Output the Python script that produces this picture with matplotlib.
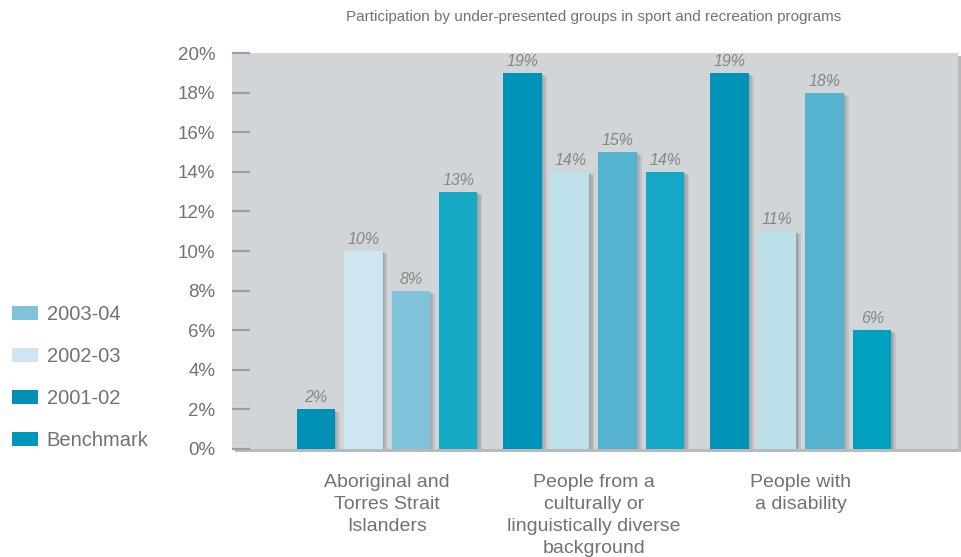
import matplotlib
matplotlib.use("Agg")
import matplotlib.pyplot as plt
import matplotlib.patheffects as pe
from matplotlib.patches import Patch
import numpy as np

# ---- data ----
categories = [
    "Aboriginal and\nTorres Strait\nIslanders",
    "People from a\nculturally or\nlinguistically diverse\nbackground",
    "People with\na disability",
]
series_names = ["2001-02", "2002-03", "2003-04", "Benchmark"]
values_2001_02 = [2, 19, 19]
values_2002_03 = [10, 14, 11]
values_2003_04 = [8, 15, 18]
values_benchmark = [13, 14, 6]
ytick_values = [0, 2, 4, 6, 8, 10, 12, 14, 16, 18, 20]
ytick_labels = [f"{v}%" for v in ytick_values]
title = "Participation by under-presented groups in sport and recreation programs"

# ---- styling ----
bar_colors = [
    ["#0090b5", "#0093b8", "#0093b8"],   # 2001-02
    ["#cde6ef", "#bde0ea", "#bcdfe9"],   # 2002-03
    ["#7fc2da", "#56b3cf", "#56b3cf"],   # 2003-04
    ["#15a9c6", "#15a8c6", "#00a0c1"],   # Benchmark
]
legend_colors = {"2003-04": "#7fc2da", "2002-03": "#cde6ef",
                 "2001-02": "#0090b5", "Benchmark": "#0095bb"}
text_grey = "#707274"
label_grey = "#858687"
panel_grey = "#d2d5d7"

plt.rcParams["font.family"] = ["Liberation Sans", "DejaVu Sans"]

fig = plt.figure(figsize=(9.61, 5.57), dpi=100)
fig.patch.set_facecolor("white")
ax = fig.add_axes([0.2414, 0.1939, 0.7555, 0.7109])
ax.set_facecolor(panel_grey)
ax.patch.set_path_effects([
    pe.SimplePatchShadow(offset=(2, -2), shadow_rgbFace="#9a9c9e", alpha=0.7),
    pe.Normal(),
])

all_values = [values_2001_02, values_2002_03, values_2003_04, values_benchmark]
x = np.arange(len(categories))
bar_w = 0.186
step = 0.2295

bar_shadow = [
    pe.SimplePatchShadow(offset=(1.0, -1.0), shadow_rgbFace="#5f6366", alpha=0.18),
    pe.SimplePatchShadow(offset=(2.2, -1.6), shadow_rgbFace="#5f6366", alpha=0.18),
    pe.SimplePatchShadow(offset=(3.4, -2.2), shadow_rgbFace="#5f6366", alpha=0.14),
    pe.Normal(),
]

for i, (name, vals) in enumerate(zip(series_names, all_values)):
    pos = x + (i - 1.5) * step
    bars = ax.bar(pos, vals, width=bar_w, color=bar_colors[i], linewidth=0,
                  zorder=3, label=name)
    for b, v in zip(bars, vals):
        b.set_path_effects(bar_shadow)
        ax.text(b.get_x() + b.get_width() / 2, v + 0.2, f"{v}%",
                ha="center", va="bottom", fontsize=11.5, style="italic",
                color=label_grey, zorder=4)

ax.set_xlim(-0.749, 2.759)
ax.set_ylim(0, 20)
ax.set_yticks(ytick_values)
ax.set_yticklabels(ytick_labels)
ax.set_xticks(x)
ax.set_xticklabels(categories, linespacing=1.38)

for s in ax.spines.values():
    s.set_visible(False)

ax.tick_params(axis="y", direction="in", length=13, width=1.6, color="#9c9fa1",
               labelsize=13.5, labelcolor=text_grey, pad=12)
ax.tick_params(axis="x", length=0, labelsize=14, labelcolor=text_grey, pad=18)

fig.text(0.618, 0.969, title, ha="center", va="center", fontsize=11,
         color=text_grey)

order = ["2003-04", "2002-03", "2001-02", "Benchmark"]
handles = [Patch(facecolor=legend_colors[n], edgecolor="none") for n in order]
leg = fig.legend(handles, order, loc="center left", bbox_to_anchor=(0.012, 0.322),
                 frameon=False, fontsize=14.5, labelcolor=text_grey,
                 borderpad=0, borderaxespad=0,
                 handlelength=1.3, handleheight=0.65, handletextpad=0.45,
                 labelspacing=1.14)

fig.savefig("out.png", dpi=100, facecolor="white")
